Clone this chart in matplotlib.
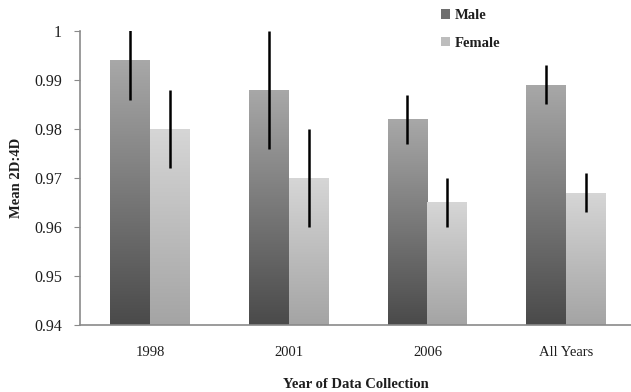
import numpy as np
import matplotlib
matplotlib.use("Agg")
import matplotlib.pyplot as plt
from matplotlib.patches import Patch

# ---------------------------------------------------------------------------
# Data
# ---------------------------------------------------------------------------
categories = ["1998", "2001", "2006", "All Years"]
male_mean = [0.994, 0.988, 0.982, 0.989]
male_err = [0.008, 0.012, 0.005, 0.004]
female_mean = [0.980, 0.970, 0.965, 0.967]
female_err = [0.008, 0.010, 0.005, 0.004]

y_ticks = [0.94, 0.95, 0.96, 0.97, 0.98, 0.99, 1.0]
y_tick_labels = ["0.94", "0.95", "0.96", "0.97", "0.98", "0.99", "1"]

# ---------------------------------------------------------------------------
# Style
# ---------------------------------------------------------------------------
plt.rcParams["font.family"] = ["Liberation Serif", "DejaVu Serif"]
SPINE = "#8a8a8a"
TEXT = "#1e1e1e"
MALE_GRAD = ("#4a4a4a", "#a8a8a8")     # bottom, top
FEMALE_GRAD = ("#a4a4a4", "#d6d6d6")
BAR_W = 0.288


def hex_rgb(h):
    h = h.lstrip("#")
    return np.array([int(h[i:i + 2], 16) / 255 for i in (0, 2, 4)])


def gradient_fill(ax, patch, grad):
    """Fill a bar patch with a vertical gradient, clipped to the bar."""
    x0, y0 = patch.get_x(), patch.get_y()
    w, h = patch.get_width(), patch.get_height()
    lo, hi = hex_rgb(grad[0]), hex_rgb(grad[1])
    t = np.linspace(0, 1, 256)[:, None]
    img = (lo[None, :] * (1 - t) + hi[None, :] * t)[:, None, :]
    im = ax.imshow(img, extent=(x0, x0 + w, y0, y0 + h), origin="lower",
                   aspect="auto", zorder=2, interpolation="bilinear")
    im.set_clip_path(patch)


fig = plt.figure(figsize=(6.31, 3.92), dpi=100)
ax = fig.add_axes([0.127, 0.171, 0.873, 0.75])

x = np.arange(len(categories))
base = 0.94
male_bars = ax.bar(x - BAR_W / 2, np.array(male_mean) - base, BAR_W, bottom=base,
                   facecolor="none", edgecolor="none", zorder=2)
female_bars = ax.bar(x + BAR_W / 2, np.array(female_mean) - base, BAR_W, bottom=base,
                     facecolor="none", edgecolor="none", zorder=2)
for p in male_bars:
    gradient_fill(ax, p, MALE_GRAD)
for p in female_bars:
    gradient_fill(ax, p, FEMALE_GRAD)

ax.errorbar(x - BAR_W / 2, male_mean, yerr=male_err, fmt="none",
            ecolor="black", elinewidth=1.8, capsize=0, zorder=4)
ax.errorbar(x + BAR_W / 2, female_mean, yerr=female_err, fmt="none",
            ecolor="black", elinewidth=1.8, capsize=0, zorder=4)

ax.set_xlim(-0.505, 3.468)
ax.set_ylim(0.94, 1.0)
ax.set_yticks(y_ticks)
ax.set_yticklabels(y_tick_labels, fontsize=11.5, color=TEXT)
ax.set_xticks(x)
ax.set_xticklabels(categories, fontsize=10.5, color=TEXT)
ax.tick_params(axis="x", length=0, pad=15)
ax.tick_params(axis="y", length=4, color=SPINE, direction="out", pad=9)

for side in ("top", "right"):
    ax.spines[side].set_visible(False)
for side in ("left", "bottom"):
    ax.spines[side].set_color(SPINE)
    ax.spines[side].set_linewidth(1.2)

ax.set_ylabel("Mean 2D:4D", fontsize=10.5, fontweight="bold", labelpad=8,
              color=TEXT)
ax.set_xlabel("Year of Data Collection", fontsize=10.5, fontweight="bold",
              labelpad=14, color=TEXT)

handles = [Patch(facecolor="#6e6e6e", edgecolor="none", label="Male"),
           Patch(facecolor="#bdbdbd", edgecolor="none", label="Female")]
leg = fig.legend(handles=handles, loc="upper left",
                 bbox_to_anchor=(428 / 631, 1 + 4 / 392), frameon=False,
                 handlelength=0.6, handleheight=0.6, handletextpad=0.3,
                 labelspacing=1.0, prop={"weight": "bold", "size": 10.5})
for t in leg.get_texts():
    t.set_color(TEXT)

fig.savefig("out.png", dpi=100)
